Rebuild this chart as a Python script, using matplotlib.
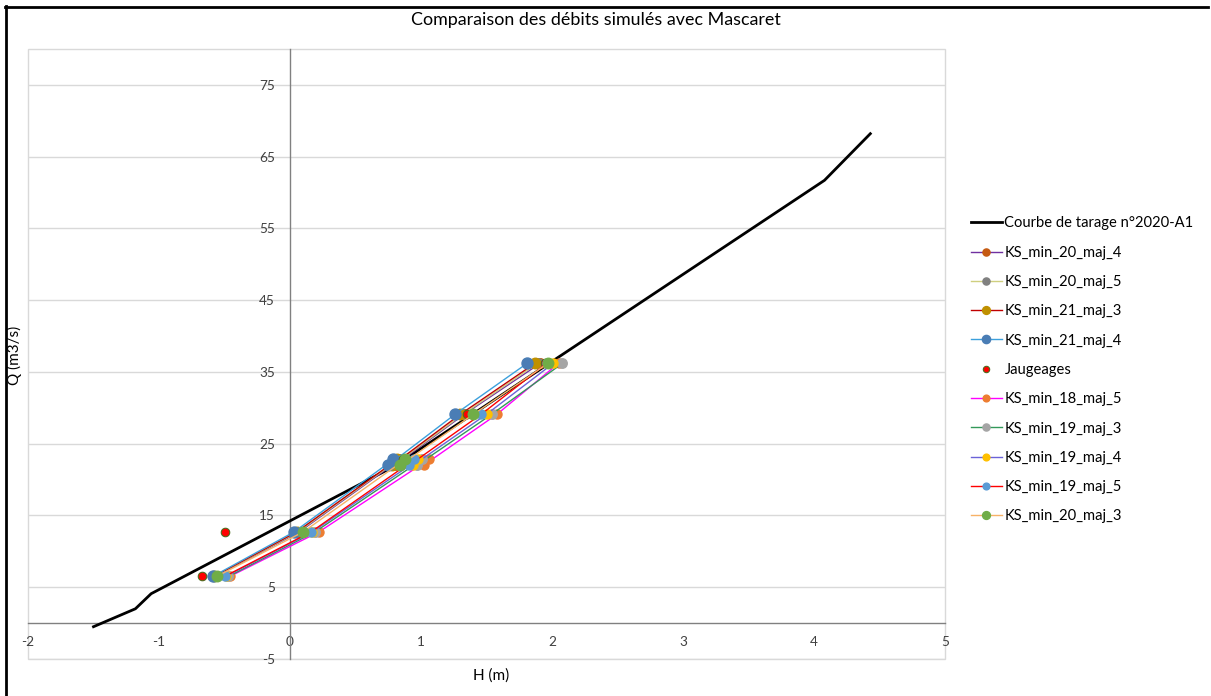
import matplotlib
matplotlib.use("Agg")
import matplotlib.pyplot as plt
from matplotlib.lines import Line2D
from matplotlib.patches import Rectangle

plt.rcParams['font.family'] = ['Lato', 'DejaVu Sans']
plt.rcParams['axes.unicode_minus'] = False

# ---------------- data ----------------
curve_H = [-1.50, -1.18, -1.06, 0.80, 4.08, 4.43]
curve_Q = [-0.5, 2.0, 4.1, 21.9, 61.7, 68.2]

jaug_H = [-0.67, -0.50, 0.86, 0.92, 1.35, 1.95]
jaug_Q = [6.5, 12.7, 22.8, 22.0, 29.1, 36.2]

sim_Q = [6.5, 12.7, 22.8, 22.0, 29.1, 36.2]

H_min20_maj4 = [-0.57, 0.07, 0.84, 0.80, 1.33, 1.91]
H_min20_maj5 = [-0.575, 0.06, 0.83, 0.79, 1.32, 1.89]
H_min21_maj3 = [-0.58, 0.05, 0.82, 0.78, 1.30, 1.87]
H_min21_maj4 = [-0.59, 0.03, 0.79, 0.75, 1.26, 1.81]
H_min18_maj5 = [-0.46, 0.22, 1.06, 1.02, 1.58, 2.05]
H_min19_maj3 = [-0.47, 0.19, 1.01, 0.97, 1.54, 2.08]
H_min19_maj4 = [-0.49, 0.17, 0.98, 0.94, 1.50, 2.01]
H_min19_maj5 = [-0.50, 0.16, 0.95, 0.91, 1.46, 1.96]
H_min20_maj3 = [-0.56, 0.10, 0.88, 0.84, 1.40, 1.97]

labels = ["Courbe de tarage n°2020-A1", "KS_min_20_maj_4", "KS_min_20_maj_5",
          "KS_min_21_maj_3", "KS_min_21_maj_4", "Jaugeages", "KS_min_18_maj_5",
          "KS_min_19_maj_3", "KS_min_19_maj_4", "KS_min_19_maj_5", "KS_min_20_maj_3"]

x_ticks = [-2, -1, 0, 1, 2, 3, 4, 5]
y_ticks = [-5, 5, 15, 25, 35, 45, 55, 65, 75]

# ---------------- figure ----------------
W, Hpx = 1211, 696
fig = plt.figure(figsize=(W / 100, Hpx / 100), dpi=100)
fig.patch.set_facecolor('white')

ax = fig.add_axes([28 / W, 1 - 659 / Hpx, (945 - 28) / W, (659 - 49) / Hpx])
ax.set_xlim(-2, 5)
ax.set_ylim(-5, 80)

grid_c = '#D9D9D9'
for yv in y_ticks:
    ax.axhline(yv, color=grid_c, lw=1, zorder=0)
ax.add_patch(Rectangle((0, 0), 1, 1, transform=ax.transAxes, fill=False,
                       ec=grid_c, lw=1, zorder=0, clip_on=False))

for s in ['top', 'right']:
    ax.spines[s].set_visible(False)
ax.spines['left'].set_position(('data', 0))
ax.spines['bottom'].set_position(('data', 0))
for s in ['left', 'bottom']:
    ax.spines[s].set_color('#808080')
    ax.spines[s].set_linewidth(1)
    ax.spines[s].set_zorder(1)

ax.set_xticks(x_ticks)
ax.set_yticks(y_ticks)
ax.tick_params(axis='both', length=0, labelsize=9.8, colors='#404040')
ax.tick_params(axis='y', pad=11)
ax.tick_params(axis='x', pad=9)

series = [
    # label, H, line color, marker color, marker px
    (labels[1], H_min20_maj4, '#7030A0', '#C55A11', 9.5),
    (labels[2], H_min20_maj5, '#CFCF7F', '#808080', 9.5),
    (labels[3], H_min21_maj3, '#C00000', '#BF9000', 10.5),
    (labels[4], H_min21_maj4, '#3CA0DC', '#4A7DB5', 11),
    None,
    (labels[6], H_min18_maj5, '#FF00FF', '#ED7D31', 9),
    (labels[7], H_min19_maj3, '#33995A', '#A5A5A5', 9.5),
    (labels[8], H_min19_maj4, '#6B63D8', '#FFC000', 9),
    (labels[9], H_min19_maj5, '#FF0000', '#5B9BD5', 9),
    (labels[10], H_min20_maj3, '#F7B267', '#70AD47', 10.5),
]

handles = []
h0, = ax.plot(curve_H, curve_Q, color='black', lw=2, zorder=3, label=labels[0])
handles.append(h0)
z = 4
for s in series:
    if s is None:
        hj, = ax.plot(jaug_H, jaug_Q, ls='none', marker='o', ms=8.5 / 1.389,
                      mfc='#FF0000', mec='#4E6B1E', mew=0.8, zorder=z, label=labels[5])
        handles.append(hj)
    else:
        lab, hv, lc, mc, msz = s
        h, = ax.plot(hv, sim_Q, color=lc, lw=1, marker='o', ms=msz / 1.389,
                     mfc=mc, mec=mc, zorder=z, label=lab)
        handles.append(h)
    z += 1

ax.set_axisbelow(True)

fig.legend(handles=handles, loc='upper left', bbox_to_anchor=(964 / W, 1 - 209 / Hpx),
           frameon=False, fontsize=10.6, labelspacing=1.04, handlelength=2.05,
           handletextpad=0.2, borderpad=0, markerscale=0.75)

fig.text(596 / W, 1 - 20 / Hpx, "Comparaison des débits simulés avec Mascaret",
         ha='center', va='center', fontsize=12.9, color='#000000')
fig.text(491 / W, 1 - 676 / Hpx, "H (m)", ha='center', va='center', fontsize=11,
         color='#000000')
fig.text(14 / W, 1 - 355 / Hpx, "Q (m3/s)", ha='center', va='center', fontsize=11,
         rotation=90, color='#000000')

# outer frame
fig.add_artist(Line2D([5.5 / W, 5.5 / W], [0, 1 - 6 / Hpx], transform=fig.transFigure,
                      color='black', lw=2))
fig.add_artist(Line2D([5 / W, 1208 / W], [1 - 6.5 / Hpx, 1 - 6.5 / Hpx],
                      transform=fig.transFigure, color='black', lw=2))

fig.savefig('out.png', dpi=100)
